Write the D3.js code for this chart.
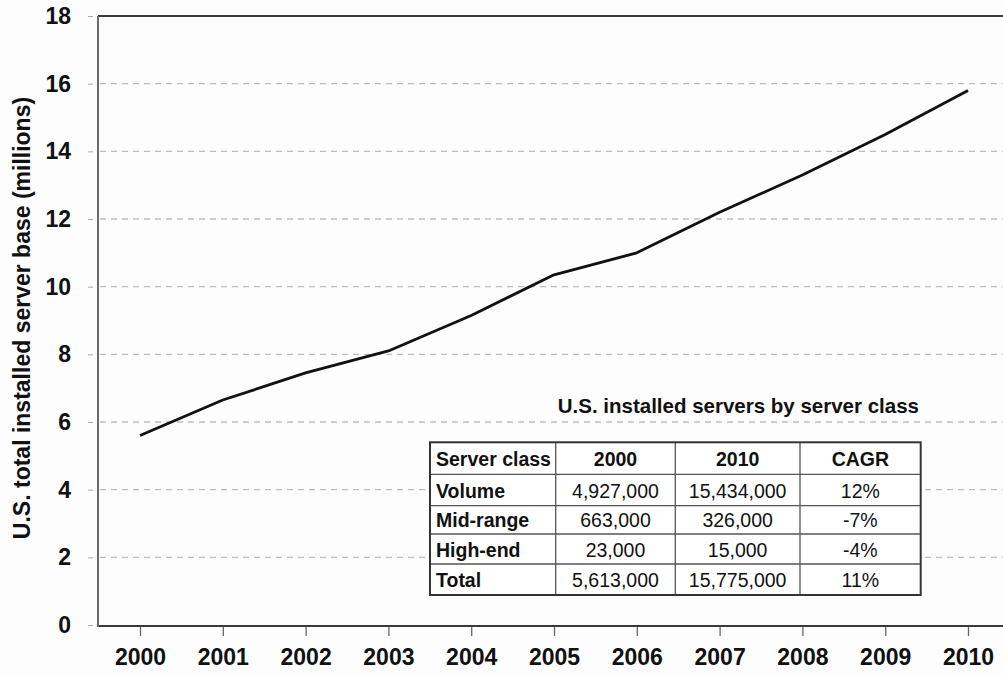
<!DOCTYPE html>
<html><head><meta charset="utf-8">
<script src="https://cdn.jsdelivr.net/npm/d3@7"></script>
<style>
html,body{margin:0;padding:0;background:#fdfdfd;}
svg{display:block;font-family:"Liberation Sans",Arial,sans-serif;}
</style></head>
<body><svg id="chart" width="1003" height="674"></svg>
<script>
// ---- data ----
const years = [2000,2001,2002,2003,2004,2005,2006,2007,2008,2009,2010];
const installedBase = [5.6,6.65,7.45,8.1,9.15,10.35,11.0,12.2,13.3,14.5,15.8];
const yTicks = [0,2,4,6,8,10,12,14,16,18];
const yTitle = "U.S. total installed server base (millions)";
const tableTitle = "U.S. installed servers by server class";
const tableHeader = ["Server class","2000","2010","CAGR"];
const serverClasses = ["Volume","Mid-range","High-end","Total"];
const servers2000 = ["4,927,000","663,000","23,000","5,613,000"];
const servers2010 = ["15,434,000","326,000","15,000","15,775,000"];
const cagr = ["12%","-7%","-4%","11%"];

(function(){
// ---- layout ----
const svg = d3.select("#chart");
const W = 1003;
const pLeft = 98, pTop = 16, pBottom = 625;
const x = d3.scaleLinear().domain([2000,2010]).range([140,968]);
const y = d3.scaleLinear().domain([0,18]).range([pBottom, pTop]);

// gridlines
svg.append("g").selectAll("line").data(yTicks.filter(d=>d>0 && d<18)).join("line")
  .attr("x1", pLeft+2).attr("x2", W).attr("y1", d=>y(d)).attr("y2", d=>y(d))
  .attr("stroke","#bdbdbd").attr("stroke-width",1.3).attr("stroke-dasharray","6,5");

// y axis labels & ticks
const yAxis = d3.axisLeft(y).tickValues(yTicks).tickSize(5).tickPadding(17);
const gy = svg.append("g").attr("transform",`translate(${pLeft-5},0)`).call(yAxis);
gy.select(".domain").remove();
gy.selectAll(".tick line").attr("stroke","#aaa").attr("stroke-width",1);
gy.selectAll(".tick text").attr("font-size",23).attr("font-weight","bold").attr("fill","#111")
  .attr("font-family","Liberation Sans, Arial, sans-serif");

// x axis
const xAxis = d3.axisBottom(x).tickValues(years).tickFormat(d3.format("d")).tickSize(10).tickPadding(13);
const gx = svg.append("g").attr("transform",`translate(0,${pBottom+1})`).call(xAxis);
gx.select(".domain").remove();
gx.selectAll(".tick line").attr("stroke","#666").attr("stroke-width",1.3);
gx.selectAll(".tick text").attr("font-size",23).attr("font-weight","bold").attr("fill","#111")
  .attr("font-family","Liberation Sans, Arial, sans-serif");

// frame
svg.append("line").attr("x1",pLeft).attr("x2",W).attr("y1",pTop).attr("y2",pTop)
  .attr("stroke","#3a3a3a").attr("stroke-width",2);
svg.append("line").attr("x1",pLeft).attr("x2",W).attr("y1",pBottom+1).attr("y2",pBottom+1)
  .attr("stroke","#3a3a3a").attr("stroke-width",2);
svg.append("line").attr("x1",pLeft).attr("x2",pLeft).attr("y1",pTop).attr("y2",pBottom+2)
  .attr("stroke","#6a6a6a").attr("stroke-width",2);

// y title
svg.append("text").attr("transform",`translate(30,318) rotate(-90)`)
  .attr("text-anchor","middle").attr("font-size",23).attr("font-weight","bold").attr("fill","#111")
  .text(yTitle);

// line
const line = d3.line().x((d,i)=>x(years[i])).y(d=>y(d));
svg.append("path").datum(installedBase).attr("d",line)
  .attr("fill","none").attr("stroke","#111").attr("stroke-width",2.8).attr("stroke-linejoin","round");

// table title
svg.append("text").attr("x",919).attr("y",413).attr("text-anchor","end")
  .attr("font-size",20.5).attr("font-weight","bold").attr("fill","#111").text(tableTitle);

// table
const colX = [430,555.7,675.3,800,920.7];
const rowY = [442.3,474.3,505.7,534,564,595];
const tg = svg.append("g");
tg.append("rect").attr("x",colX[0]).attr("y",rowY[0]).attr("width",colX[4]-colX[0]).attr("height",rowY[5]-rowY[0])
  .attr("fill","#fff");
colX.slice(1,4).forEach(cx=>tg.append("line").attr("x1",cx).attr("x2",cx).attr("y1",rowY[0]).attr("y2",rowY[5])
  .attr("stroke","#555").attr("stroke-width",1.3));
rowY.slice(1,5).forEach(ry=>tg.append("line").attr("x1",colX[0]).attr("x2",colX[4]).attr("y1",ry).attr("y2",ry)
  .attr("stroke","#555").attr("stroke-width",1.3));
tg.append("rect").attr("x",colX[0]).attr("y",rowY[0]).attr("width",colX[4]-colX[0]).attr("height",rowY[5]-rowY[0])
  .attr("fill","none").attr("stroke","#333").attr("stroke-width",2);

const rows = [tableHeader].concat(serverClasses.map((c,i)=>[c,servers2000[i],servers2010[i],cagr[i]]));
rows.forEach((r,ri)=>{
  const cy = (rowY[ri]+rowY[ri+1])/2 + 7.5;
  r.forEach((t,ci)=>{
    const isFirst = ci===0;
    tg.append("text")
      .attr("x", isFirst ? colX[0]+6 : (colX[ci]+colX[ci+1])/2)
      .attr("y", cy)
      .attr("text-anchor", isFirst ? "start" : "middle")
      .attr("font-size",19.5)
      .attr("font-weight", (ri===0 || isFirst) ? "bold" : "normal")
      .attr("fill","#111").text(t);
  });
});
})();
</script></body></html>
